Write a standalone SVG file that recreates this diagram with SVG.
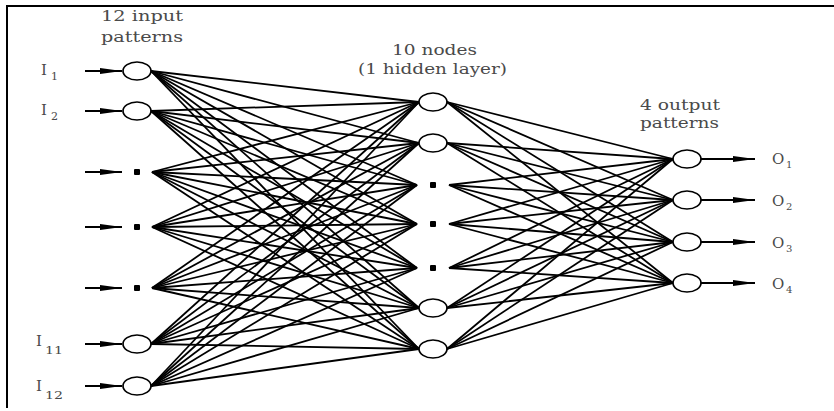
<svg xmlns="http://www.w3.org/2000/svg" width="834" height="411" viewBox="0 0 834 411">
<style>
.lbl{font-family:"DejaVu Serif","Liberation Serif",serif;fill:#4a4a4a;}
.hd{font-size:15px;}
.nd{fill:#fff;stroke:#000;stroke-width:1.7;}
.dot{fill:#000;}
.cn line{stroke:#000;stroke-width:1.8;}
.ar{stroke:#000;stroke-width:1.7;fill:none;}
</style>
<defs>
<marker id="ah" markerUnits="userSpaceOnUse" markerWidth="24" markerHeight="8" refX="22" refY="4" orient="auto">
<path d="M0,1 L22,4 L0,7 z" fill="#000"/>
</marker>
</defs>
<rect width="834" height="411" fill="#fff"/>
<path d="M7,408 L7,6 L834,6" fill="none" stroke="#000" stroke-width="2"/>

<g id="headings" class="lbl hd">
<text x="101" y="21" textLength="82" lengthAdjust="spacingAndGlyphs">12 input</text>
<text x="101" y="42" textLength="82" lengthAdjust="spacingAndGlyphs">patterns</text>
<text x="392" y="55" textLength="85" lengthAdjust="spacingAndGlyphs">10 nodes</text>
<text x="358" y="74" textLength="149" lengthAdjust="spacingAndGlyphs">(1 hidden layer)</text>
<text x="640" y="110" textLength="80" lengthAdjust="spacingAndGlyphs">4 output</text>
<text x="640" y="128" textLength="79" lengthAdjust="spacingAndGlyphs">patterns</text>
</g>

<g id="connectors" class="cn">
<g id="from-in1">
<line x1="151" y1="71" x2="419" y2="102"/><line x1="151" y1="71" x2="419" y2="143"/><line x1="151" y1="71" x2="417" y2="185"/><line x1="151" y1="71" x2="417" y2="224"/><line x1="151" y1="71" x2="417" y2="268"/><line x1="151" y1="71" x2="419" y2="308"/><line x1="151" y1="71" x2="419" y2="349"/>
</g>
<g id="from-in2">
<line x1="151" y1="111" x2="419" y2="102"/><line x1="151" y1="111" x2="419" y2="143"/><line x1="151" y1="111" x2="417" y2="185"/><line x1="151" y1="111" x2="417" y2="224"/><line x1="151" y1="111" x2="417" y2="268"/><line x1="151" y1="111" x2="419" y2="308"/><line x1="151" y1="111" x2="419" y2="349"/>
</g>
<g id="from-in3">
<line x1="152" y1="172" x2="419" y2="102"/><line x1="152" y1="172" x2="419" y2="143"/><line x1="152" y1="172" x2="417" y2="185"/><line x1="152" y1="172" x2="417" y2="224"/><line x1="152" y1="172" x2="417" y2="268"/><line x1="152" y1="172" x2="419" y2="308"/><line x1="152" y1="172" x2="419" y2="349"/>
</g>
<g id="from-in4">
<line x1="152" y1="227" x2="419" y2="102"/><line x1="152" y1="227" x2="419" y2="143"/><line x1="152" y1="227" x2="417" y2="185"/><line x1="152" y1="227" x2="417" y2="224"/><line x1="152" y1="227" x2="417" y2="268"/><line x1="152" y1="227" x2="419" y2="308"/><line x1="152" y1="227" x2="419" y2="349"/>
</g>
<g id="from-in5">
<line x1="152" y1="288" x2="419" y2="102"/><line x1="152" y1="288" x2="419" y2="143"/><line x1="152" y1="288" x2="417" y2="185"/><line x1="152" y1="288" x2="417" y2="224"/><line x1="152" y1="288" x2="417" y2="268"/><line x1="152" y1="288" x2="419" y2="308"/><line x1="152" y1="288" x2="419" y2="349"/>
</g>
<g id="from-in11">
<line x1="151" y1="344" x2="419" y2="102"/><line x1="151" y1="344" x2="419" y2="143"/><line x1="151" y1="344" x2="417" y2="185"/><line x1="151" y1="344" x2="417" y2="224"/><line x1="151" y1="344" x2="417" y2="268"/><line x1="151" y1="344" x2="419" y2="308"/><line x1="151" y1="344" x2="419" y2="349"/>
</g>
<g id="from-in12">
<line x1="151" y1="386" x2="419" y2="102"/><line x1="151" y1="386" x2="419" y2="143"/><line x1="151" y1="386" x2="417" y2="185"/><line x1="151" y1="386" x2="417" y2="224"/><line x1="151" y1="386" x2="417" y2="268"/><line x1="151" y1="386" x2="419" y2="308"/><line x1="151" y1="386" x2="419" y2="349"/>
</g>
<g id="from-h">
<line x1="447" y1="102" x2="673" y2="159"/><line x1="447" y1="102" x2="673" y2="200"/><line x1="447" y1="102" x2="673" y2="242"/><line x1="447" y1="102" x2="673" y2="283"/>
<line x1="447" y1="143" x2="673" y2="159"/><line x1="447" y1="143" x2="673" y2="200"/><line x1="447" y1="143" x2="673" y2="242"/><line x1="447" y1="143" x2="673" y2="283"/>
<line x1="449" y1="185" x2="673" y2="159"/><line x1="449" y1="185" x2="673" y2="200"/><line x1="449" y1="185" x2="673" y2="242"/><line x1="449" y1="185" x2="673" y2="283"/>
<line x1="449" y1="224" x2="673" y2="159"/><line x1="449" y1="224" x2="673" y2="200"/><line x1="449" y1="224" x2="673" y2="242"/><line x1="449" y1="224" x2="673" y2="283"/>
<line x1="449" y1="268" x2="673" y2="159"/><line x1="449" y1="268" x2="673" y2="200"/><line x1="449" y1="268" x2="673" y2="242"/><line x1="449" y1="268" x2="673" y2="283"/>
<line x1="447" y1="308" x2="673" y2="159"/><line x1="447" y1="308" x2="673" y2="200"/><line x1="447" y1="308" x2="673" y2="242"/><line x1="447" y1="308" x2="673" y2="283"/>
<line x1="447" y1="349" x2="673" y2="159"/><line x1="447" y1="349" x2="673" y2="200"/><line x1="447" y1="349" x2="673" y2="242"/><line x1="447" y1="349" x2="673" y2="283"/>
</g>
<g id="in-arrows">
<line class="ar" x1="85" y1="71" x2="122" y2="71" marker-end="url(#ah)"/>
<line class="ar" x1="85" y1="111" x2="122" y2="111" marker-end="url(#ah)"/>
<line class="ar" x1="85" y1="172" x2="122" y2="172" marker-end="url(#ah)"/>
<line class="ar" x1="85" y1="227" x2="122" y2="227" marker-end="url(#ah)"/>
<line class="ar" x1="85" y1="288" x2="122" y2="288" marker-end="url(#ah)"/>
<line class="ar" x1="85" y1="344" x2="122" y2="344" marker-end="url(#ah)"/>
<line class="ar" x1="85" y1="386" x2="122" y2="386" marker-end="url(#ah)"/>
</g>
<g id="out-arrows">
<line class="ar" x1="701" y1="159" x2="755" y2="159" marker-end="url(#ah)"/>
<line class="ar" x1="701" y1="200" x2="755" y2="200" marker-end="url(#ah)"/>
<line class="ar" x1="701" y1="242" x2="755" y2="242" marker-end="url(#ah)"/>
<line class="ar" x1="701" y1="283" x2="755" y2="283" marker-end="url(#ah)"/>
</g>
</g>

<g id="in1"><ellipse class="nd" cx="137" cy="71" rx="14" ry="9"/><text class="lbl" x="41" y="75" font-size="15">I</text><text class="lbl" x="51" y="80" font-size="11">1</text></g>
<g id="in2"><ellipse class="nd" cx="137" cy="111" rx="14" ry="9"/><text class="lbl" x="41" y="115" font-size="15">I</text><text class="lbl" x="51" y="120" font-size="11">2</text></g>
<g id="in3"><rect class="dot" x="134" y="169" width="6" height="6" rx="1"/></g>
<g id="in4"><rect class="dot" x="134" y="224" width="6" height="6" rx="1"/></g>
<g id="in5"><rect class="dot" x="134" y="285" width="6" height="6" rx="1"/></g>
<g id="in11"><ellipse class="nd" cx="137" cy="344" rx="14" ry="9"/><text class="lbl" x="36" y="346" font-size="15">I</text><text class="lbl" x="45" y="354" font-size="11" textLength="18" lengthAdjust="spacingAndGlyphs">11</text></g>
<g id="in12"><ellipse class="nd" cx="137" cy="386" rx="14" ry="9"/><text class="lbl" x="36" y="391" font-size="15">I</text><text class="lbl" x="45" y="399" font-size="11" textLength="18" lengthAdjust="spacingAndGlyphs">12</text></g>

<g id="h1"><ellipse class="nd" cx="433" cy="102" rx="14" ry="9"/></g>
<g id="h2"><ellipse class="nd" cx="433" cy="143" rx="14" ry="9"/></g>
<g id="h3"><rect class="dot" x="430" y="182" width="6" height="6" rx="1"/></g>
<g id="h4"><rect class="dot" x="430" y="221" width="6" height="6" rx="1"/></g>
<g id="h5"><rect class="dot" x="430" y="265" width="6" height="6" rx="1"/></g>
<g id="h9"><ellipse class="nd" cx="433" cy="308" rx="14" ry="9"/></g>
<g id="h10"><ellipse class="nd" cx="433" cy="349" rx="14" ry="9"/></g>

<g id="o1"><ellipse class="nd" cx="687" cy="159" rx="14" ry="9"/><text class="lbl" x="772" y="164" font-size="15">O</text><text class="lbl" x="786" y="168" font-size="10">1</text></g>
<g id="o2"><ellipse class="nd" cx="687" cy="200" rx="14" ry="9"/><text class="lbl" x="772" y="206" font-size="15">O</text><text class="lbl" x="786" y="210" font-size="10">2</text></g>
<g id="o3"><ellipse class="nd" cx="687" cy="242" rx="14" ry="9"/><text class="lbl" x="772" y="248" font-size="15">O</text><text class="lbl" x="786" y="252" font-size="10">3</text></g>
<g id="o4"><ellipse class="nd" cx="687" cy="283" rx="14" ry="9"/><text class="lbl" x="772" y="289" font-size="15">O</text><text class="lbl" x="786" y="293" font-size="10">4</text></g>
</svg>
